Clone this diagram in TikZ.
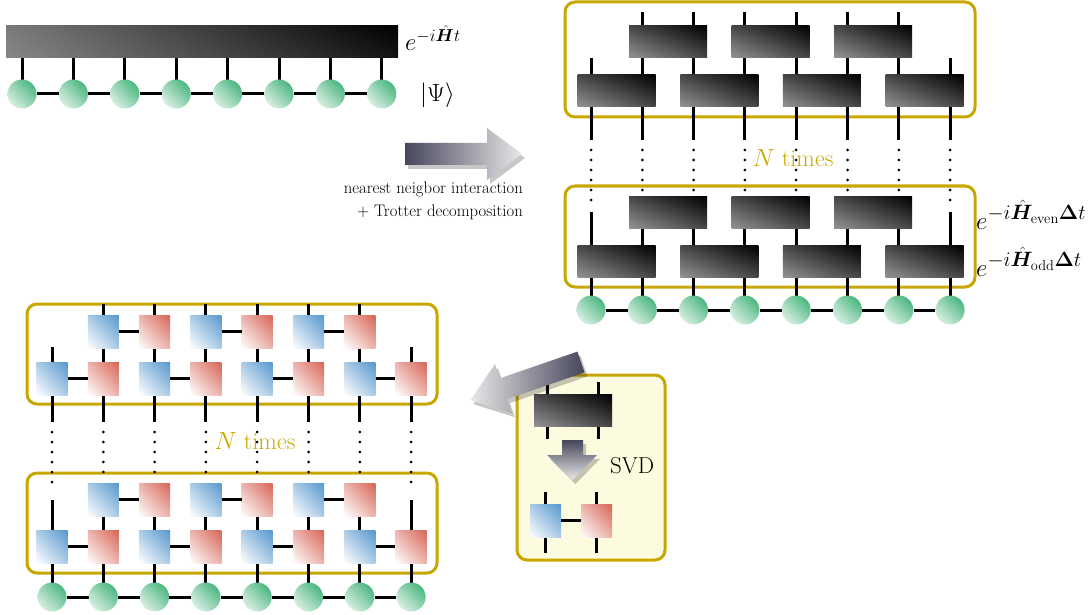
\documentclass[tikz,border=0pt]{standalone}
\usepackage{amsmath,bm}
\usetikzlibrary{shadows,shadings}
\definecolor{gold}{RGB}{200,168,0}
\definecolor{svdfill}{RGB}{252,251,224}
\definecolor{gcirc}{RGB}{45,170,105}
\definecolor{bsq}{RGB}{85,150,205}
\definecolor{rsq}{RGB}{215,100,85}
\definecolor{arrdark}{RGB}{70,70,92}
\definecolor{arrlight}{RGB}{232,232,232}
\newcommand{\fatarrowpath}{(0,-11) -- (82,-11) -- (82,-26) -- (117,0) -- (82,26) -- (82,11) -- (0,11) -- cycle}
\newcommand{\supsz}[1]{\text{\fontsize{21}{25}\selectfont$#1$}}
\tikzset{
  gatebox/.style={inner sep=0pt, minimum width=78pt, minimum height=32pt,
    upper right=black, lower left=black!42, upper left=black!72, lower right=black!72},
  site/.style={circle, minimum size=29pt, inner sep=0pt,
    upper right=gcirc, lower left=gcirc!6, upper left=gcirc!50, lower right=gcirc!50},
  bsquare/.style={inner sep=0pt, minimum width=31pt, minimum height=33pt,
    upper right=bsq, lower left=white, upper left=bsq!50, lower right=bsq!50},
  rsquare/.style={inner sep=0pt, minimum width=31pt, minimum height=33pt,
    upper right=rsq, lower left=white, upper left=rsq!50, lower right=rsq!50},
  leg/.style={line width=3pt},
  dotleg/.style={line width=3pt, line cap=round, dash pattern=on 0pt off 10pt},
  frame/.style={draw=gold, line width=3pt, rounded corners=10pt},
  lbl/.style={inner sep=0pt, font=\fontsize{23}{28}\selectfont},
  small/.style={inner sep=0pt, font=\fontsize{16.7}{20}\selectfont},
  shad/.style={drop shadow={shadow xshift=3pt, shadow yshift=-4pt, opacity=0.22, fill=black}},
}
\begin{document}
\begin{tikzpicture}[x=1pt,y=-1pt,line join=round]
\useasboundingbox (0,0) rectangle (1090,615);

% ---------------- top left ----------------
\node[inner sep=0pt, minimum width=392pt, minimum height=32pt,
  upper right=black, lower left=black!47, upper left=black!52, lower right=black!92] (bar) at (202,42) {};
\foreach \i [evaluate=\i as \xx using 22+51.4*\i] in {0,...,7}{
  \coordinate (tlT\i) at (\xx,58);
  \draw[leg] (tlT\i) -- (\xx,94);
}
\foreach \i [evaluate=\i as \xx using 22+51.4*\i] in {0,...,7}{
  \node[site] (tl\i) at (\xx,94) {};
}
\foreach \i [evaluate=\i as \j using int(\i+1)] in {0,...,6}{
  \draw[leg] (tl\i) -- (tl\j);
}
\node[lbl, anchor=base west] (lH) at (405,51) {$e^{-i\hat{\bm H}t}$};
\node[lbl, anchor=west] (lPsi) at (420,95) {$|\Psi\rangle$};

% ---------------- arrow 1 ----------------
\path[shift={(405,154)}, left color=arrdark, right color=arrlight, shad] \fatarrowpath;
\node[small, anchor=east] (t1) at (523,189) {nearest neigbor interaction};
\node[small, anchor=east] (t2) at (523,212) {+ Trotter decomposition};

% ---------------- top right ----------------
\draw[frame] (565,2) rectangle (975,117);
\draw[frame] (565,186) rectangle (975,287);
\foreach \i [evaluate=\i as \xx using 591+51.3*\i] in {1,...,6}{
  \draw[leg] (\xx,12) -- (\xx,140);
  \draw[dotleg] (\xx,150) -- (\xx,192);
  \draw[leg] (\xx,196) -- (\xx,310);
}
\foreach \i [evaluate=\i as \xx using 591+51.3*\i] in {0,7}{
  \draw[leg] (\xx,58) -- (\xx,140);
  \draw[dotleg] (\xx,150) -- (\xx,210);
  \draw[leg] (\xx,212) -- (\xx,310);
}
\foreach \c [count=\k] in {668,770.5,873.2}{
  \node[gatebox] (eA\k) at (\c,42) {};
  \node[gatebox] (eB\k) at (\c,212.5) {};
}
\foreach \c [count=\k] in {616.6,719.3,821.9,924.5}{
  \node[gatebox] (oA\k) at (\c,91) {};
  \node[gatebox] (oB\k) at (\c,261.5) {};
}
\foreach \i [evaluate=\i as \xx using 591+51.3*\i] in {0,...,7}{
  \node[site] (tr\i) at (\xx,310) {};
}
\foreach \i [evaluate=\i as \j using int(\i+1)] in {0,...,6}{
  \draw[leg] (tr\i) -- (tr\j);
}
\node[lbl, text=gold, font=\fontsize{24}{28}\selectfont] (nt1) at (793,158) {$N$ times};
\node[lbl, anchor=base west] (lE) at (976,229) {$e^{\supsz{-i\hat{\bm H}_{\mathrm{even}}\bm{\Delta} t}}$};
\node[lbl, anchor=base west] (lO) at (976,276) {$e^{\supsz{-i\hat{\bm H}_{\mathrm{odd}}\bm{\Delta} t}}$};

% ---------------- SVD panel ----------------
\draw[frame, fill=svdfill] (517,375) rectangle (665,560);
\draw[leg] (547,382) -- (547,439);
\draw[leg] (598,382) -- (598,439);
\node[gatebox] (sg) at (573,410.5) {};
\path[top color=arrdark, bottom color=arrlight, shad] (562,440) -- (583,440) -- (583,455) -- (597,455) -- (572.5,480) -- (547,455) -- (562,455) -- cycle;
\node[lbl, anchor=west] (svd) at (610,466) {SVD};
\draw[leg] (545.5,492) -- (545.5,553);
\draw[leg] (596.5,492) -- (596.5,553);
\node[bsquare] (su) at (545.5,520.5) {};
\node[rsquare] (sv) at (596.5,520.5) {};
\draw[leg] (su) -- (sv);

% ---------------- arrow 2 ----------------
\path[shift={(581,362)}, rotate=199, left color=arrlight, right color=arrdark, shad] \fatarrowpath;

% ---------------- bottom left ----------------
\draw[frame] (27,304) rectangle (437,404);
\draw[frame] (27,473) rectangle (437,573);
\foreach \i [evaluate=\i as \xx using 52+51.3*\i] in {1,...,6}{
  \draw[leg] (\xx,304) -- (\xx,422);
  \draw[dotleg] (\xx,432) -- (\xx,480);
  \draw[leg] (\xx,483) -- (\xx,597);
}
\foreach \i [evaluate=\i as \xx using 52+51.3*\i] in {0,7}{
  \draw[leg] (\xx,347) -- (\xx,422);
  \draw[dotleg] (\xx,432) -- (\xx,492);
  \draw[leg] (\xx,500) -- (\xx,597);
}
% lower rows (odd layer)
\foreach \i [evaluate=\i as \xx using 52+51.3*\i] in {0,2,4,6}{
  \node[bsquare] (ua\i) at (\xx,378.5) {};
  \node[bsquare] (ub\i) at (\xx,546.5) {};
}
\foreach \i [evaluate=\i as \xx using 52+51.3*\i] in {1,3,5,7}{
  \node[rsquare] (ua\i) at (\xx,378.5) {};
  \node[rsquare] (ub\i) at (\xx,546.5) {};
}
% upper rows (even layer)
\foreach \i [evaluate=\i as \xx using 52+51.3*\i] in {1,3,5}{
  \node[bsquare] (va\i) at (\xx,331.5) {};
  \node[bsquare] (vb\i) at (\xx,499.5) {};
}
\foreach \i [evaluate=\i as \xx using 52+51.3*\i] in {2,4,6}{
  \node[rsquare] (va\i) at (\xx,331.5) {};
  \node[rsquare] (vb\i) at (\xx,499.5) {};
}
\foreach \i/\j in {0/1,2/3,4/5,6/7}{
  \draw[leg] (ua\i) -- (ua\j);
  \draw[leg] (ub\i) -- (ub\j);
}
\foreach \i/\j in {1/2,3/4,5/6}{
  \draw[leg] (va\i) -- (va\j);
  \draw[leg] (vb\i) -- (vb\j);
}
\foreach \i [evaluate=\i as \xx using 52+51.3*\i] in {0,...,7}{
  \node[site] (bl\i) at (\xx,597) {};
}
\foreach \i [evaluate=\i as \j using int(\i+1)] in {0,...,6}{
  \draw[leg] (bl\i) -- (bl\j);
}
\node[lbl, text=gold, font=\fontsize{24}{28}\selectfont] (nt2) at (255,441) {$N$ times};
\end{tikzpicture}
\end{document}
